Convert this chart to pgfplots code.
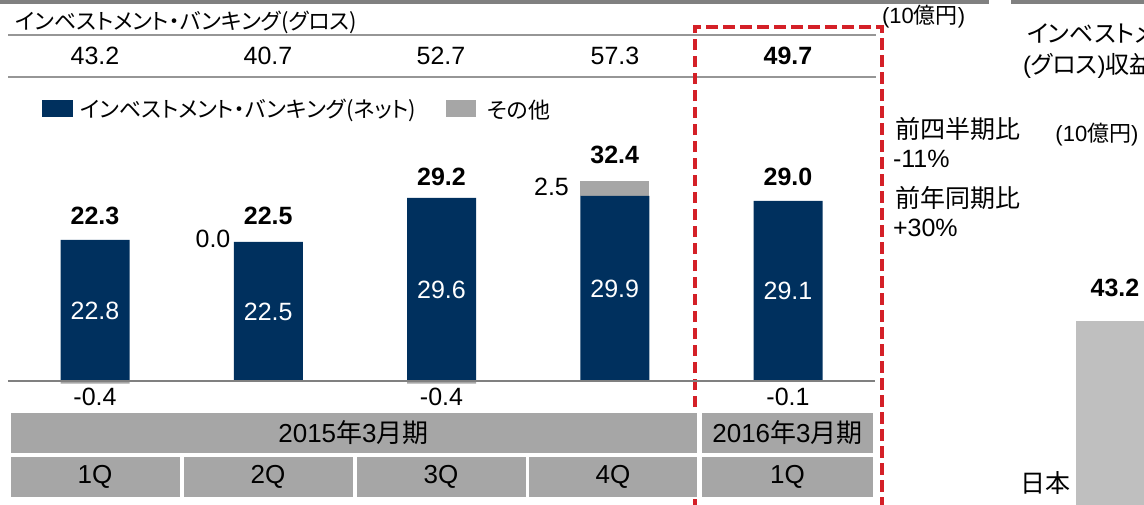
\documentclass[border=0pt]{standalone}
\usepackage{fontspec}
\setmainfont{Liberation Sans}
\newfontfamily\jp[RawFeature=+palt]{Noto Sans CJK JP}
\newfontfamily\jpk{Noto Sans CJK JP}
\usepackage{pgfplots}
\pgfplotsset{compat=1.18}

\definecolor{navy}{RGB}{0,48,94}
\definecolor{othergray}{RGB}{166,166,166}
\definecolor{cellgray}{RGB}{166,166,166}
\definecolor{rulegray}{RGB}{128,128,128}
\definecolor{linegray}{RGB}{150,150,150}
\definecolor{boxred}{RGB}{212,32,39}
\definecolor{rightgray}{RGB}{191,191,191}

\newcommand{\fs}[1]{\fontsize{#1}{#1}\selectfont}

\begin{document}
\begin{tikzpicture}[every node/.style={inner sep=0pt, outer sep=0pt}]
\useasboundingbox (0,0) rectangle (1144pt,-504pt);
\clip (0,0) rectangle (1144pt,-504pt);

% frame, header rows, legend, red box (pixel coordinates)
\begin{scope}[x=1pt,y=-1pt]
  \fill[rulegray] (0,0) rectangle (989,3.5);
  \fill[rulegray] (1011,0) rectangle (1144,3.5);
  \draw[linegray, line width=1.5pt] (8,35) -- (876,35);
  \draw[linegray, line width=1.5pt] (8,77) -- (876,77);
  \draw[boxred, line width=4.5pt, dash pattern=on 11.5pt off 5.5pt]
    (695,560) -- (695,27) -- (882,27) -- (882,560);

  \node[anchor=west] at (15,22) {\jp\fs{22}インベストメント・バンキング(グロス)};
  \node[anchor=west] at (882,17) {\fs{22}(10{\jpk 億円})};

  \node at (95,56)  {\fs{25}43.2};
  \node at (268,56) {\fs{25}40.7};
  \node at (441,56) {\fs{25}52.7};
  \node at (615,56) {\fs{25}57.3};
  \node at (788,56) {\bfseries\fs{25}49.7};

  \fill[navy] (42,100) rectangle (73,117);
  \node[anchor=west] at (80,110) {\jp\fs{22}インベストメント・バンキング(ネット)};
  \fill[othergray] (446,100) rectangle (476,117);
  \node[anchor=west] at (487,110) {\jp\fs{22}その他};

  \node[anchor=west] at (895,129) {\jpk\fs{25}前四半期比};
  \node[anchor=west] at (893,159) {\fs{25}-11\%};
  \node[anchor=west] at (895,198) {\jpk\fs{25}前年同期比};
  \node[anchor=west] at (893,228) {\fs{25}+30\%};

  \node at (1097,135) {\fs{22}(10{\jpk 億円})};
  \node[anchor=west] at (1027,33) {\jp\fs{24}インベストメント・バンキング};
  \node[anchor=west] at (1023,66) {\fs{24}({\jp グロス}){\jpk 収益}};
  \node at (1045,483) {\jpk\fs{25}日本};
\end{scope}

% net IB and positive "other" stacked
\begin{axis}[
  at={(8pt,-412pt)}, anchor=south west,
  scale only axis, width=869pt, height=278.55pt,
  xmin=-0.5022, xmax=4.5137, ymin=-5, ymax=40,
  axis lines=none, clip=false,
  ybar stacked, bar width=69pt,
]
\addplot[fill=navy, draw=none] coordinates {(0,22.8) (1,22.5) (2,29.6) (3,29.9) (4,29.1)};
\addplot[fill=othergray, draw=none] coordinates {(0,0) (1,0) (2,0) (3,2.5) (4,0)};
\end{axis}

% negative "other" drawn down from zero, and all bar labels
\begin{axis}[
  at={(8pt,-412pt)}, anchor=south west,
  scale only axis, width=869pt, height=278.55pt,
  xmin=-0.5022, xmax=4.5137, ymin=-5, ymax=40,
  axis lines=none, clip=false,
  ybar, bar width=69pt,
]
\addplot[fill=othergray, draw=none] coordinates {(0,-0.4) (2,-0.4) (4,-0.1)};
\draw[rulegray, line width=2pt] (axis cs:-0.5022,0) -- (axis cs:4.502,0);

\node[text=white] at (axis cs:0,11.4)  {\fs{25}22.8};
\node[text=white] at (axis cs:1,11.1)  {\fs{25}22.5};
\node[text=white] at (axis cs:2,14.8)  {\fs{25}29.6};
\node[text=white] at (axis cs:3,14.95) {\fs{25}29.9};
\node[text=white] at (axis cs:4,14.55) {\fs{25}29.1};

\node at (axis cs:0,26.66) {\bfseries\fs{25}22.3};
\node at (axis cs:1,26.66) {\bfseries\fs{25}22.5};
\node at (axis cs:2,32.96) {\bfseries\fs{25}29.2};
\node at (axis cs:3,36.5)  {\bfseries\fs{25}32.4};
\node at (axis cs:4,32.96) {\bfseries\fs{25}29.0};

\node at (axis cs:0.681,22.94) {\fs{25}0.0};
\node at (axis cs:2.635,31.34) {\fs{25}2.5};

\node at (axis cs:0,-2.58) {\fs{25}-0.4};
\node at (axis cs:2,-2.58) {\fs{25}-0.4};
\node at (axis cs:4,-2.58) {\fs{25}-0.1};
\end{axis}

% cut-off chart on the right
\begin{axis}[
  at={(1076pt,-588.4pt)}, anchor=south west,
  scale only axis, width=78pt, height=309.5pt,
  xmin=-0.5, xmax=0.5, ymin=0, ymax=50,
  axis lines=none, clip=false,
  ybar, bar width=78pt,
]
\addplot[fill=rightgray, draw=none] coordinates {(0,43.2)};
\node at (axis cs:0,48.5) {\bfseries\fs{25}43.2};
\end{axis}

% period table
\begin{scope}[x=1pt,y=-1pt]
  \fill[white] (8,411) rectangle (878,499);
  \fill[cellgray] (11,413) rectangle (697,453);
  \fill[cellgray] (702,413) rectangle (873,453);
  \foreach \a/\b in {11/180,184/353,357/526,529/697,702/873}
    \fill[cellgray] (\a,457) rectangle (\b,497);
  \node at (353.5,433) {\fs{26}2015{\jpk 年}3{\jpk 月期}};
  \node at (787.5,433) {\fs{26}2016{\jpk 年}3{\jpk 月期}};
  \node at (95,477)  {\fs{26}1Q};
  \node at (268,477) {\fs{26}2Q};
  \node at (441,477) {\fs{26}3Q};
  \node at (613,477) {\fs{26}4Q};
  \node at (787.5,477) {\fs{26}1Q};
\end{scope}
\end{tikzpicture}
\end{document}
